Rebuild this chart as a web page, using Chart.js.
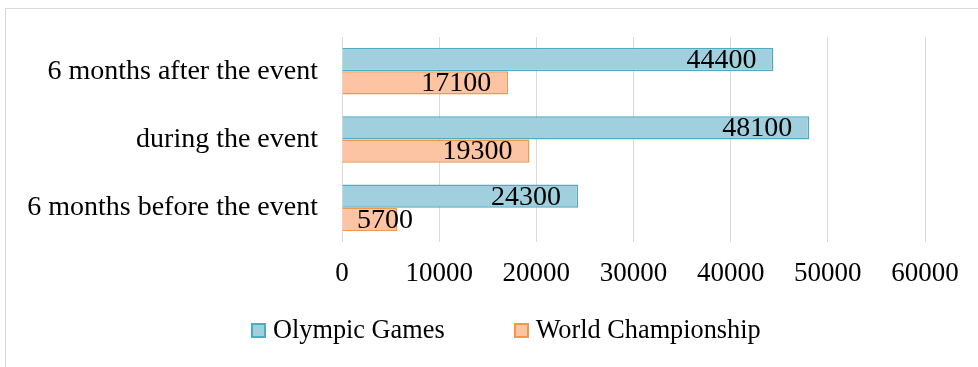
<!DOCTYPE html>
<html>
<head>
<meta charset="utf-8">
<script src="https://cdn.jsdelivr.net/npm/chart.js@4/dist/chart.umd.min.js"></script>
<style>
  html, body { margin:0; padding:0; background:#fff; overflow:hidden; }
  #frame { position:absolute; left:5px; top:8px; width:1010px; height:400px; border:1px solid #d9d9d9; }
  #wrap { position:absolute; left:0; top:0; width:1006px; height:367px; }
  #legenda { position:absolute; left:251px; top:315px; display:flex; align-items:center;
             font-family:'Liberation Serif','Times New Roman',serif; font-size:26.3px; line-height:30px; color:#000; }
  .item { display:flex; align-items:center; margin-right:69px; }
  .caixa { width:11px; height:11px; border:2px solid; margin-right:7px; }
</style>
</head>
<body>
<div id="frame"></div>
<div id="wrap"><canvas id="grafico"></canvas></div>
<div id="legenda"></div>
<script>
const categorias = ['6 months after the event', 'during the event', '6 months before the event'];
const olimpicos = [44400, 48100, 24300];
const mundial   = [17100, 19300, 5700];
const ticksX    = [0, 10000, 20000, 30000, 40000, 50000, 60000];

const fonte = "'Liberation Serif', 'Times New Roman', serif";

// rótulos de valor no fim da barra
const rotulos = {
  id: 'rotulos',
  afterDatasetsDraw(chart) {
    const ctx = chart.ctx;
    const base = chart.scales.x.getPixelForValue(0);
    ctx.save();
    ctx.font = '28px ' + fonte;
    ctx.fillStyle = '#000';
    ctx.textBaseline = 'middle';
    ctx.textAlign = 'left';
    chart.data.datasets.forEach((ds, i) => {
      chart.getDatasetMeta(i).data.forEach((bar, j) => {
        const txt = String(ds.data[j]);
        const w = ctx.measureText(txt).width;
        const x = Math.max(bar.x - 17 - w, base + 15);
        ctx.fillText(txt, x, bar.y + 1);
      });
    });
    ctx.restore();
  }
};

const grafico = new Chart(document.getElementById('grafico'), {
  type: 'bar',
  data: {
    labels: categorias,
    datasets: [
      { label: 'Olympic Games', data: olimpicos, backgroundColor: '#a0d0de', borderColor: '#4bacc6', borderWidth: 1.5 },
      { label: 'World Championship', data: mundial, backgroundColor: '#fcc4a2', borderColor: '#f79646', borderWidth: 1.5 }
    ]
  },
  options: {
    indexAxis: 'y',
    responsive: true,
    maintainAspectRatio: false,
    animation: false,
    layout: { padding: { top: 37, right: 1006 - 925, left: 0, bottom: 67 } },
    categoryPercentage: 0.68,
    barPercentage: 1.0,
    plugins: {
      tooltip: { enabled: false },
      legend: { display: false }
    },
    scales: {
      x: {
        min: 0,
        max: 60000,
        afterBuildTicks(scale) { scale.ticks = ticksX.map(v => ({ value: v })); },
        afterFit(scale) { scale.height = 58; },
        grid: { color: '#d9d9d9', lineWidth: 1, drawTicks: false },
        border: { display: false },
        ticks: { color: '#000', font: { family: fonte, size: 27 }, padding: 16, maxRotation: 0,
                 callback: v => String(v) }
      },
      y: {
        afterFit(scale) { scale.width = 342; },
        grid: { display: false },
        border: { display: false },
        ticks: { color: '#000', font: { family: fonte, size: 28 }, padding: 16 }
      }
    }
  },
  plugins: [rotulos]
});

// legenda em HTML a partir dos datasets
const legenda = document.getElementById('legenda');
grafico.data.datasets.forEach(ds => {
  const item = document.createElement('div');
  item.className = 'item';
  item.innerHTML = `<span class="caixa" style="background:${ds.backgroundColor};border-color:${ds.borderColor}"></span><span>${ds.label}</span>`;
  legenda.appendChild(item);
});
</script>
</body>
</html>
